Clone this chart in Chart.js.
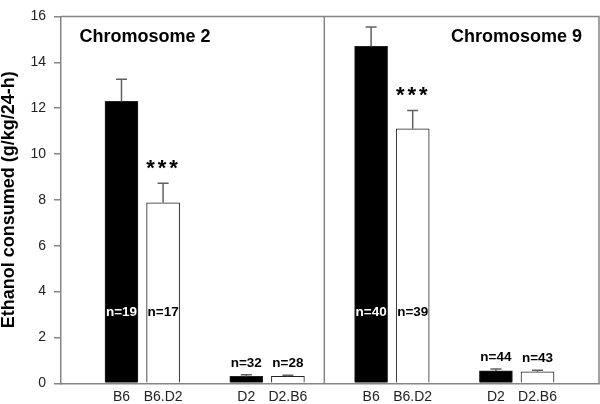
<!DOCTYPE html>
<html><head><meta charset="utf-8">
<script src="https://cdn.jsdelivr.net/npm/chart.js@4.4.0/dist/chart.umd.min.js"></script>
<style>html,body{margin:0;padding:0;background:#fff}</style>
</head><body>
<canvas id="c" width="600" height="404"></canvas>
<script>
// ---- data ----
const categories = ['B6', 'B6.D2', 'D2', 'D2.B6', 'B6', 'B6.D2', 'D2', 'D2.B6'];
const means = [12.3, 7.87, 0.3, 0.3, 14.7, 11.1, 0.54, 0.5];
const sems = [0.96, 0.85, 0.07, 0.05, 0.84, 0.8, 0.08, 0.07];
const nCounts = [19, 17, 32, 28, 40, 39, 44, 43];
const significance = ['', '***', '', '', '', '***', '', ''];
const panelTitles = ['Chromosome 2', 'Chromosome 9'];
const yTickValues = [0, 2, 4, 6, 8, 10, 12, 14, 16];

const FONT = 'Liberation Sans, Arial, Helvetica, sans-serif';
const AXIS_GRAY = '#858585';
// bars sit in pairs with an empty slot between pairs
const positions = categories.map((c, i) => i + Math.floor(i / 2));
const barFill = categories.map((c, i) => i % 2 === 0 ? '#000000' : '#ffffff');

const overlay = {
  id: 'overlay',
  afterDatasetsDraw(chart) {
    const ctx = chart.ctx, xs = chart.scales.x, ys = chart.scales.y, a = chart.chartArea;
    ctx.save();
    // frame: top + right border and the panel divider
    ctx.strokeStyle = AXIS_GRAY; ctx.lineWidth = 1.5;
    ctx.beginPath();
    ctx.moveTo(a.left, a.top); ctx.lineTo(a.right, a.top); ctx.lineTo(a.right, a.bottom);
    const dx = xs.getPixelForValue((positions[3] + positions[4]) / 2 - 0.125);
    ctx.moveTo(dx, a.top); ctx.lineTo(dx, a.bottom);
    ctx.stroke();
    // error bars
    ctx.strokeStyle = '#606060'; ctx.lineWidth = 1.5;
    means.forEach((m, i) => {
      const x = xs.getPixelForValue(positions[i]);
      const y0 = ys.getPixelForValue(m), y1 = ys.getPixelForValue(m + sems[i]);
      ctx.beginPath();
      ctx.moveTo(x, y0); ctx.lineTo(x, y1);
      ctx.moveTo(x - 5.5, y1); ctx.lineTo(x + 5.5, y1);
      ctx.stroke();
    });
    // n labels
    ctx.font = 'bold 13.5px ' + FONT; ctx.textAlign = 'center'; ctx.textBaseline = 'middle';
    means.forEach((m, i) => {
      const x = xs.getPixelForValue(positions[i]);
      let y, col;
      if (m > 5) { y = ys.getPixelForValue(3.1); col = i % 2 === 0 ? '#ffffff' : '#000000'; }
      else { y = ys.getPixelForValue(m + sems[i]) - 12; col = '#000000'; }
      ctx.fillStyle = col;
      ctx.fillText('n=' + nCounts[i], x, y);
    });
    // significance stars (drawn one glyph at a time for the wide spacing)
    ctx.font = 'bold 22px ' + FONT; ctx.textBaseline = 'alphabetic'; ctx.fillStyle = '#000';
    significance.forEach((s, i) => {
      if (!s) return;
      const x = xs.getPixelForValue(positions[i]) - 1;
      const y = ys.getPixelForValue(means[i] + sems[i]) - 8.5;
      const chars = s.split('');
      chars.forEach((ch, k) => ctx.fillText(ch, x + (k - (chars.length - 1) / 2) * 11.5, y));
    });
    // panel titles
    ctx.font = 'bold 18px ' + FONT; ctx.textBaseline = 'middle';
    ctx.textAlign = 'left'; ctx.fillText(panelTitles[0], a.left + 18.5, a.top + 21);
    ctx.textAlign = 'right'; ctx.fillText(panelTitles[1], a.right - 17, a.top + 21);
    ctx.restore();
  }
};

new Chart(document.getElementById('c'), {
  type: 'bar',
  data: {
    datasets: [{
      data: positions.map((p, i) => ({ x: p, y: means[i] })),
      backgroundColor: barFill,
      borderColor: '#222222',
      borderWidth: 1,
      barThickness: 33
    }]
  },
  options: {
    responsive: false, animation: false, devicePixelRatio: 1,
    layout: { padding: { left: 0, right: 1, top: 5.5, bottom: 0 } },
    plugins: { legend: { display: false }, tooltip: { enabled: false } },
    scales: {
      x: {
        type: 'linear', min: -1.454, max: 11.478, offset: false,
        afterBuildTicks: s => { s.ticks = positions.map(v => ({ value: v })); },
        afterFit: s => { s.height = 20.7; },
        ticks: {
          autoSkip: false, maxRotation: 0, padding: 5,
          font: { family: FONT, size: 14 }, color: '#222',
          callback: (v, idx) => categories[idx]
        },
        grid: { display: false, drawTicks: false, offset: false },
        border: { display: true, color: AXIS_GRAY, width: 1.5 }
      },
      y: {
        min: 0, max: 16,
        afterBuildTicks: s => { s.ticks = yTickValues.map(v => ({ value: v })); },
        afterFit: s => { s.width = 61; },
        ticks: { padding: 8, font: { family: FONT, size: 14 }, color: '#222' },
        grid: { drawOnChartArea: false, drawTicks: true, tickLength: 7, color: AXIS_GRAY, lineWidth: 1.5 },
        border: { display: true, color: AXIS_GRAY, width: 1.5 },
        title: {
          display: true, text: 'Ethanol consumed (g/kg/24-h)',
          font: { family: FONT, size: 18, weight: 'bold', lineHeight: 1.05 },
          color: '#000', padding: { top: 0, bottom: 0 }
        }
      }
    }
  },
  plugins: [overlay]
});
</script>
</body></html>
